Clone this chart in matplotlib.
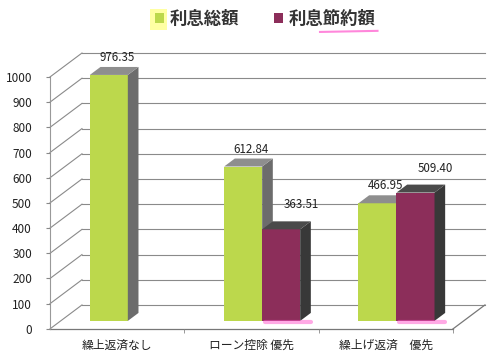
import matplotlib
matplotlib.use('Agg')
import matplotlib.pyplot as plt
from matplotlib.patches import Polygon, Patch, Rectangle
from matplotlib.lines import Line2D

plt.rcParams['font.family'] = ['Noto Sans CJK JP', 'DejaVu Sans']

# data
categories = ['繰上返済なし', 'ローン控除 優先', '繰上げ返済　優先']
total_interest = [976.35, 612.84, 466.95]
interest_saved = [None, 363.51, 509.40]
series_names = ['利息総額', '利息節約額']
yticks = [0, 100, 200, 300, 400, 500, 600, 700, 800, 900, 1000]

# colours: front, top, side
green = ('#bcd84c', '#8e8e8e', '#6c6c6c')
purple = ('#8c2e5a', '#4a4a4a', '#383838')

# fake 3d depth (in data units)
ddx = 0.238
ddy = 95
w = 0.283

fig = plt.figure(figsize=(5, 3.63), dpi=100)
ax = fig.add_axes([0.1, 0.094, 0.806, 0.694])
ax.set_xlim(-0.5, 2.5)
ax.set_ylim(0, 1000)
for s in ax.spines.values():
    s.set_visible(False)

grid_c = '#8a8a8a'
# back wall gridlines and left wall obliques
for v in yticks:
    ax.plot([-0.5 + ddx, 2.5 + ddx], [v + ddy, v + ddy], color=grid_c, lw=0.8, clip_on=False, zorder=1)
    ax.plot([-0.5, -0.5 + ddx], [v, v + ddy], color=grid_c, lw=0.8, clip_on=False, zorder=1)
# floor
ax.plot([-0.5, 2.5], [0, 0], color='#777777', lw=0.9, clip_on=False, zorder=1)
ax.plot([2.5, 2.5 + ddx], [0, ddy], color='#777777', lw=0.9, clip_on=False, zorder=1)
# front vertical axis line
ax.plot([-0.5, -0.5], [0, 1000], color='#999999', lw=0.8, clip_on=False, zorder=1)

ax.set_yticks(yticks)
ax.set_yticklabels([str(v) for v in yticks], fontsize=8.5, color='#222222')
ax.tick_params(axis='y', length=3, pad=10, color='#888888')
ax.set_xticks(range(len(categories)))
ax.set_xticklabels(categories, fontsize=8.5, color='#222222')
ax.tick_params(axis='x', length=0, pad=7)
ax.set_xticks([0.5, 1.5, 2.5], minor=True)
ax.tick_params(axis='x', which='minor', length=3, color='#888888')


def bar3d(xc, v, cols, z):
    d = 1 / 3
    base = d * ddy
    x0 = xc - w / 2 + d * ddx
    x1 = xc + w / 2 + d * ddx
    sx, sy = ddx / 3, ddy / 3
    ax.bar(x0, v, width=w, bottom=base, align='edge', color=cols[0],
           edgecolor='none', clip_on=False, zorder=z)
    side = Polygon([(x1, base), (x1 + sx, base + sy), (x1 + sx, base + v + sy), (x1, base + v)],
                   closed=True, facecolor=cols[2], edgecolor='none', clip_on=False, zorder=z)
    top = Polygon([(x0, base + v), (x1, base + v), (x1 + sx, base + v + sy), (x0 + sx, base + v + sy)],
                  closed=True, facecolor=cols[1], edgecolor='none', clip_on=False, zorder=z)
    ax.add_patch(side)
    ax.add_patch(top)
    return x0, x1, base + v + sy


for i, cat in enumerate(categories):
    v = total_interest[i]
    x0, x1, ytop = bar3d(i - w / 2, v, green, 3)
    ax.text((x0 + x1) / 2 + 0.06, ytop + 12, f'{v:.2f}', ha='center', va='bottom',
            fontsize=8.3, color='#222222', clip_on=False, zorder=6)
    v = interest_saved[i]
    if v is None:
        continue
    x0, x1, ytop = bar3d(i + w / 2, v, purple, 4)
    # highlighter smear at bar base
    ax.plot([x0 + 0.02, x1 + ddx / 3], [ddy / 3 - 6, ddy / 3 - 6], color='#ff55cc', lw=3,
            alpha=0.5, solid_capstyle='round', clip_on=False, zorder=5)
    ax.text((x0 + x1) / 2 + 0.15, ytop + 40, f'{v:.2f}', ha='center', va='bottom',
            fontsize=8.3, color='#222222', clip_on=False, zorder=6)

# legend
handles = [Patch(facecolor=green[0], edgecolor='none'), Patch(facecolor=purple[0], edgecolor='none')]
fig.legend(handles, series_names, loc='upper center', bbox_to_anchor=(0.53, 1.015), ncol=2,
           frameon=False, handlelength=0.55, handleheight=0.55, handletextpad=0.3,
           columnspacing=2.0, prop={'family': 'Noto Sans CJK JP', 'weight': 'bold', 'size': 12.5},
           labelcolor='#333333')
# highlighter marks on the legend
fig.patches.append(Rectangle((0.300, 0.918), 0.034, 0.058, transform=fig.transFigure,
                             facecolor='#ffff66', alpha=0.6, edgecolor='none', zorder=0))
fig.lines.append(Line2D([0.64, 0.755], [0.912, 0.915], transform=fig.transFigure,
                        color='#ff55cc', lw=1.5, alpha=0.7))

fig.savefig('out.png', dpi=100)
